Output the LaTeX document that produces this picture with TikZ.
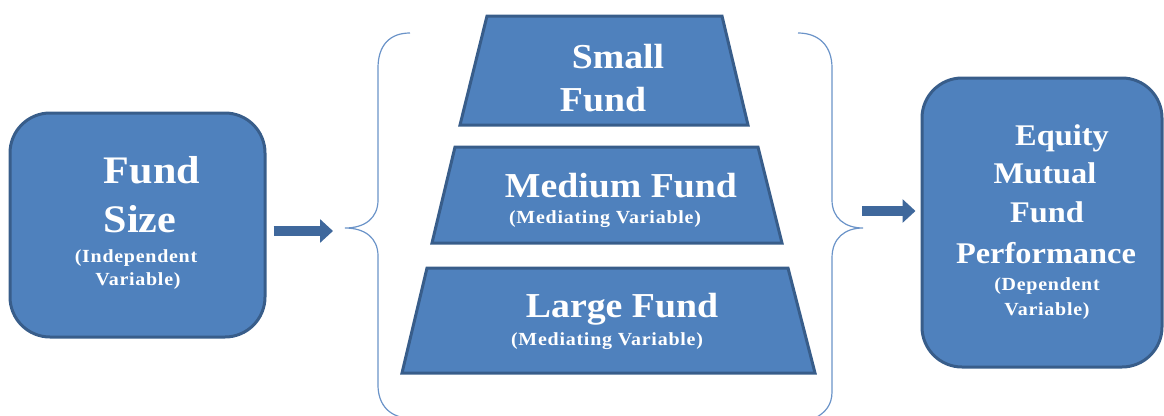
\documentclass[tikz,border=0pt]{standalone}
\usepackage{fontspec}
\setmainfont{Liberation Serif}[FakeStretch=1.08]
\usetikzlibrary{arrows.meta}

\definecolor{boxfill}{HTML}{4F81BD}
\definecolor{boxline}{HTML}{385D8A}
\definecolor{braceline}{HTML}{6A93C8}
\definecolor{arrowblue}{HTML}{3F689C}

\newcommand\hugetxt{\fontsize{39}{44}\selectfont\bfseries}
\newcommand\bigtxt{\fontsize{35}{40}\selectfont\bfseries}
\newcommand\midtxt{\fontsize{30}{34}\selectfont\bfseries}
\newcommand\smalltxt{\fontsize{18.5}{21}\selectfont\bfseries\addfontfeature{LetterSpace=4}}

\tikzset{
  fundbox/.style={draw=boxline, fill=boxfill, line width=3pt, rounded corners=40pt},
  bandbox/.style={draw=boxline, fill=boxfill, line width=3pt, line join=miter},
  whitetxt/.style={text=white, anchor=base, inner sep=0pt},
  bracecurve/.style={draw=braceline, line width=1.2pt},
  flowarrow/.style={draw=arrowblue, line width=10pt, -{Triangle[length=13pt,width=23pt]}}
}

\begin{document}
\begin{tikzpicture}[x=1pt,y=-1pt]
\useasboundingbox (0,0) rectangle (1164,415);

% independent variable
\node[fundbox, minimum width=255pt, minimum height=224pt] (size) at (137.5,225) {};
\node[whitetxt] (size1) at (152,183) {\hugetxt Fund};
\node[whitetxt] (size2) at (140,232) {\hugetxt Size};
\node[whitetxt] (size3) at (136,262) {\smalltxt (Independent};
\node[whitetxt] (size4) at (138,285) {\smalltxt Variable)};

% the three fund sizes
\draw[bandbox] (487,16) -- (722,16) -- (748,125) -- (460,125) -- cycle;
\draw[bandbox] (455,147) -- (758,147) -- (782,243) -- (432,243) -- cycle;
\draw[bandbox] (427,268) -- (788,268) -- (815,373) -- (402,373) -- cycle;

\node[whitetxt] (small1) at (618,68) {\bigtxt Small};
\node[whitetxt] (small2) at (603,111) {\bigtxt Fund};
\node[whitetxt] (medium1) at (621,197) {\bigtxt Medium Fund};
\node[whitetxt] (medium2) at (605,223) {\smalltxt (Mediating Variable)};
\node[whitetxt] (large1) at (622,317) {\bigtxt Large Fund};
\node[whitetxt] (large2) at (607,345) {\smalltxt (Mediating Variable)};

% braces
\draw[bracecurve] (410,33) .. controls (390,33) and (378,45) .. (378,68) -- (378,200)
  .. controls (378,218) and (365,228) .. (345,228)
  .. controls (365,228) and (378,238) .. (378,256) -- (378,385)
  .. controls (378,405) and (390,418) .. (410,418);
\draw[bracecurve] (798,33) .. controls (818,33) and (832,45) .. (832,68) -- (832,200)
  .. controls (832,218) and (845,228) .. (863,228)
  .. controls (845,228) and (832,238) .. (832,258) -- (832,392)
  .. controls (832,405) and (825,413) .. (815,418);

% dependent variable
\node[fundbox, minimum width=240pt, minimum height=289pt] (perf) at (1042,222.5) {};
\node[whitetxt] (perf1) at (1062,145) {\midtxt Equity};
\node[whitetxt] (perf2) at (1045,183) {\midtxt Mutual};
\node[whitetxt] (perf3) at (1047,222) {\midtxt Fund};
\node[whitetxt] (perf4) at (1046,263) {\midtxt Performance};
\node[whitetxt] (perf5) at (1047,290) {\smalltxt (Dependent};
\node[whitetxt] (perf6) at (1047,315) {\smalltxt Variable)};

% arrows
\coordinate (ljoin) at (345,231);
\coordinate (rjoin) at (862,211);
\draw[flowarrow, shorten <=7pt, shorten >=12pt] (size.east |- ljoin) -- (ljoin);
\draw[flowarrow, shorten >=5pt] (rjoin) -- (perf.west |- rjoin);
\end{tikzpicture}
\end{document}
